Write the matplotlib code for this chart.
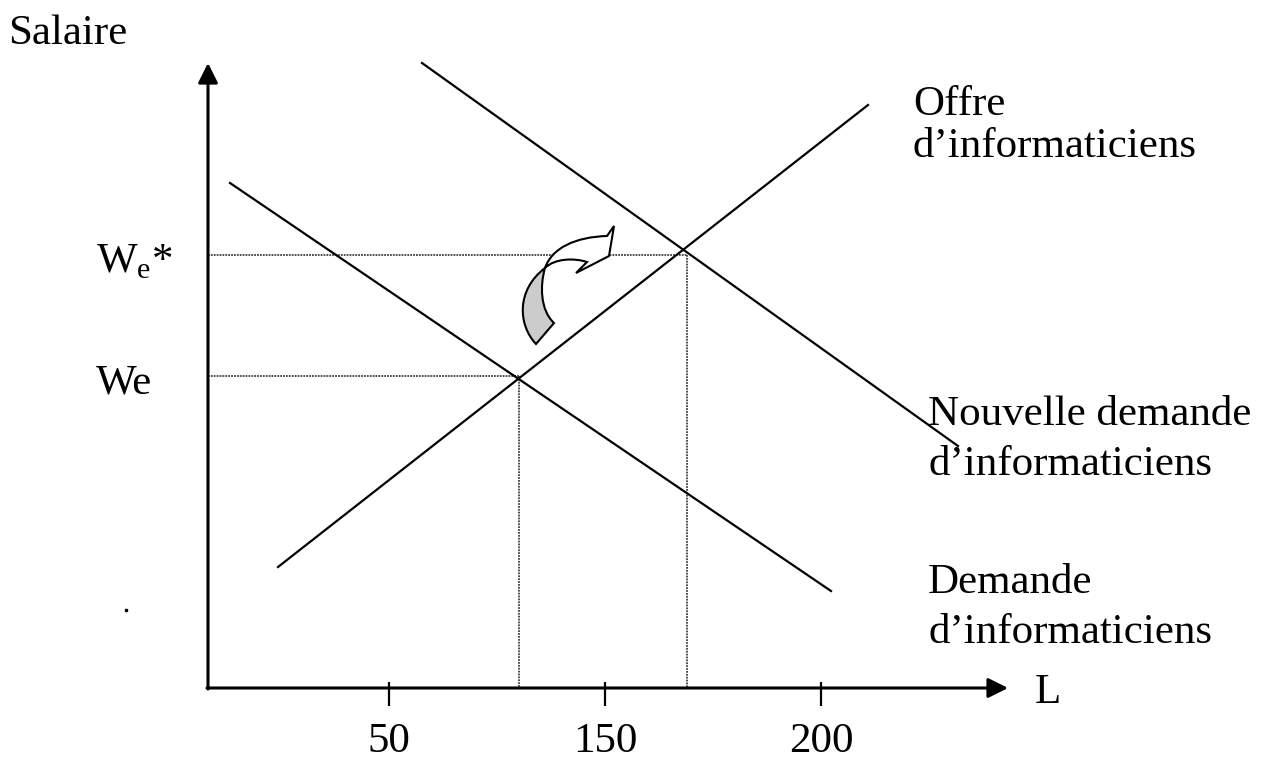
import matplotlib.pyplot as plt
from matplotlib.path import Path
from matplotlib.patches import PathPatch

# Data (coordinates in picture units, y grows downwards) ==============================
origin = (208, 688)
y_top = 63        # tip of the Salaire axis
x_right = 1008    # tip of the L axis

supply_x = [278, 868]
supply_y = [567, 105]
demand_x = [230, 831]
demand_y = [183, 591]
new_demand_x = [422, 958]
new_demand_y = [63, 446]

eq_x = [519, 687]        # L at the two equilibria
eq_y = [376, 255]        # We, We*

tick_pos = [389, 605, 821]
tick_labels = ['50', '150', '200']

# Figure ==============================================================================
DPI = 100
fig = plt.figure(figsize=(1269 / DPI, 762 / DPI), dpi=DPI)
ax = fig.add_axes([0, 0, 1, 1])
ax.set_xlim(0, 1269)
ax.set_ylim(762, 0)
ax.axis('off')

font = dict(family=['Liberation Serif', 'DejaVu Serif'], size=31, color='black')

# axes with arrow heads
arrow = dict(arrowstyle='-|>,head_length=0.6,head_width=0.3', lw=2.2, color='black',
             mutation_scale=20, shrinkA=0, shrinkB=0)
ax.annotate('', xy=(origin[0], y_top), xytext=(origin[0], origin[1] + 1), arrowprops=arrow)
ax.annotate('', xy=(x_right, origin[1]), xytext=(origin[0] - 1, origin[1]), arrowprops=arrow)

# ticks
ax.vlines(tick_pos, 682, 706, color='black', lw=1.6)
for p, lab in zip(tick_pos, tick_labels):
    ax.text(p, 752, lab, ha='center', va='baseline', **font)

# dotted guide lines
guide = dict(color='0.25', lw=1.3, linestyle=(0, (1, 0.6)))
for x, y in zip(eq_x, eq_y):
    ax.plot([origin[0], x], [y, y], **guide)
    ax.plot([x, x], [y, origin[1]], **guide)

# curves
ax.plot(supply_x, supply_y, color='black', lw=1.6)
ax.plot(demand_x, demand_y, color='black', lw=1.6)
ax.plot(new_demand_x, new_demand_y, color='black', lw=1.6)

# curved block arrow (shift of demand)
grey = Path([(545, 268), (540, 285), (540, 310), (554, 323), (536, 344),
             (518, 325), (516, 290), (545, 268), (545, 268)],
            [Path.MOVETO, Path.CURVE4, Path.CURVE4, Path.CURVE4, Path.LINETO,
             Path.CURVE4, Path.CURVE4, Path.CURVE4, Path.CLOSEPOLY])
white = Path([(545, 268), (552, 248), (575, 237), (607, 236), (614, 226),
              (609, 256), (576, 273), (587, 262), (575, 258), (555, 258),
              (545, 268), (545, 268)],
             [Path.MOVETO, Path.CURVE4, Path.CURVE4, Path.CURVE4, Path.LINETO,
              Path.LINETO, Path.LINETO, Path.LINETO, Path.CURVE4, Path.CURVE4,
              Path.CURVE4, Path.CLOSEPOLY])
ax.add_patch(PathPatch(grey, facecolor='#cccccc', edgecolor='black', lw=1.5, zorder=4))
ax.add_patch(PathPatch(white, facecolor='white', edgecolor='black', lw=1.5, zorder=4))

# labels
ax.text(8, 44, 'Salaire', ha='left', va='baseline', **font)
ax.text(1035, 703, 'L', ha='left', va='baseline', **font)
ax.text(96, 272, 'W$_{\\mathregular{e}}$*', ha='left', va='baseline', **font)
ax.text(96, 393, 'We', ha='left', va='baseline', **font)
ax.text(913, 115, 'Offre', ha='left', va='baseline', **font)
ax.text(913, 157, 'd\u2019informaticiens', ha='left', va='baseline', **font)
ax.text(928, 425, 'Nouvelle demande', ha='left', va='baseline', **font)
ax.text(928, 475, 'd\u2019informaticiens', ha='left', va='baseline', **font)
ax.text(928, 593, 'Demande', ha='left', va='baseline', **font)
ax.text(928, 643, 'd\u2019informaticiens', ha='left', va='baseline', **font)

# stray dot in the original
ax.plot([126], [610], 's', color='black', ms=1.5)

fig.savefig('out.png', dpi=DPI)
